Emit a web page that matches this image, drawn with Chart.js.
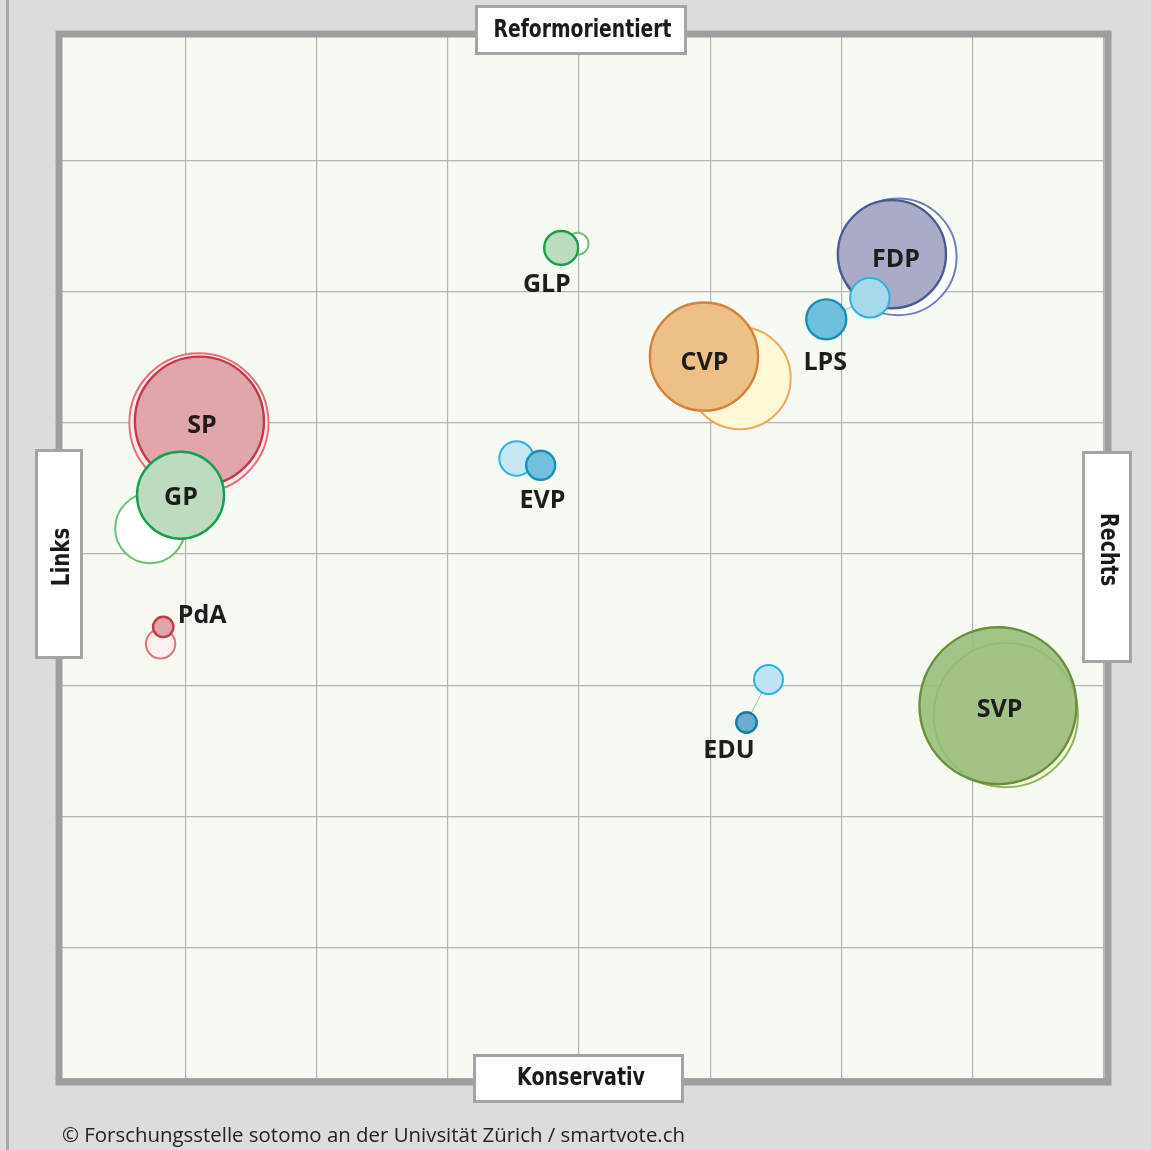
<!DOCTYPE html>
<html>
<head>
<meta charset="utf-8">
<script src="https://cdn.jsdelivr.net/npm/chart.js@4.4.1/dist/chart.umd.min.js"></script>
<style>
html,body{margin:0;padding:0;background:#dbdcdb;}
#wrap{position:absolute;left:0;top:0;width:1151px;height:1150px;}
</style>
</head>
<body>
<div id="wrap"><canvas id="c" width="1151" height="1150"></canvas></div>
<script>
// ---- data (axes run -100 .. 100) ----
const parties   = ['SP', 'GP', 'PdA', 'GLP', 'EVP', 'CVP', 'FDP', 'LPS', 'EDU', 'SVP'];
// earlier position (pale circle)
const xPrev     = [-72.4, -81.7, -79.7, -0.3, -11.9, 30.6, 60.8, 55.4, 36.1, 81.3];
const yPrev     = [ 25.0,   4.9, -17.1, 59.1,  18.2, 33.5, 56.6, 48.8, -23.9, -30.7];
const sharePrev = [ 23.0,   5.8,   1.03, 0.58,  1.41, 12.4, 16.2, 1.85, 1.0, 24.7];
// current position (filled circle)
const xNow      = [-72.3, -75.9, -79.2, -3.4,  -7.3, 23.8, 59.6, 47.1, 31.9, 79.8];
const yNow      = [ 25.3,  11.2, -13.9, 58.3,  16.9, 37.6, 57.1, 44.7, -32.1, -28.9];
const shareNow  = [ 19.8,   9.0,   0.49, 1.37,  1.0, 13.9, 13.9, 1.9, 0.5, 29.3];
const gridTicks = [-100, -75, -50, -25, 0, 25, 50, 75, 100];
const axisTexts = {top: 'Reformorientiert', bottom: 'Konservativ', left: 'Links', right: 'Rechts'};
const footer    = '© Forschungsstelle sotomo an der Univsität Zürich / smartvote.ch';

// ---- styles ----
const K = 14.5; // radius = K * sqrt(share)
const styles = {
  SP:  {pf:'#fcebec', ps:'#e5707a', nf:'#e0a6aa', ns:'#c8374a'},
  GP:  {pf:'#ffffff', ps:'#6fc075', nf:'#bddbbf', ns:'#17a04c'},
  PdA: {pf:'#fcefef', ps:'#e5707a', nf:'#e0a6aa', ns:'#c8374a'},
  GLP: {pf:'#ffffff', ps:'#6fc075', nf:'#bddbbf', ns:'#17a04c'},
  EVP: {pf:'#c6e6f2', ps:'#29b6e0', nf:'#72c0de', ns:'#1590bb'},
  CVP: {pf:'#fff8d6', ps:'#f0aa5c', nf:'#ecc087', ns:'#d4823a'},
  FDP: {pf:'#ffffff', ps:'#6e80b8', nf:'#a9abc8', ns:'#4a5b94'},
  LPS: {pf:'#a6d9ea', ps:'#27b3dd', nf:'#6fbfdf', ns:'#1590bb'},
  EDU: {pf:'#bfe3f2', ps:'#27b3dd', nf:'#6aaecb', ns:'#137ea0'},
  SVP: {pf:'#f4f6dc', ps:'#8db456', nf:'rgba(150,188,120,0.88)', ns:'#6b8e3d'}
};
const labelOffsets = {
  SP:[2.5,3], GP:[0.5,0.7], PdA:[39,-12.7], GLP:[-14.3,35.5], EVP:[1.7,34.2],
  CVP:[0.5,4.6], LPS:[-1,42], FDP:[4,4], EDU:[-17.6,26.4], SVP:[1.7,2.5]
};

const datasets = parties.map((p, i) => {
  const s = styles[p];
  return {
    label: p,
    data: [{x: xPrev[i], y: yPrev[i]}, {x: xNow[i], y: yNow[i]}],
    showLine: true,
    borderColor: '#b5b5b5',
    borderWidth: 1,
    pointRadius: [K * Math.sqrt(sharePrev[i]), K * Math.sqrt(shareNow[i])],
    pointBackgroundColor: [s.pf, s.nf],
    pointBorderColor: [s.ps, s.ns],
    pointBorderWidth: [2, 2.4],
    order: parties.length - i
  };
});

function fitText(ctx, txt, x, y, w, font, rot, align) {
  ctx.save();
  ctx.translate(x, y);
  ctx.rotate(rot || 0);
  ctx.font = font;
  const m = ctx.measureText(txt).width;
  if (w) ctx.scale(w / m, 1);
  ctx.textAlign = align || 'center';
  ctx.textBaseline = 'alphabetic';
  ctx.fillText(txt, 0, 0);
  ctx.restore();
}
function box(ctx, x0, y0, x1, y1) {
  ctx.save();
  ctx.fillStyle = '#ffffff';
  ctx.fillRect(x0, y0, x1 - x0, y1 - y0);
  ctx.strokeStyle = '#a3a4a3';
  ctx.lineWidth = 3;
  ctx.strokeRect(x0 + 1.5, y0 + 1.5, x1 - x0 - 3, y1 - y0 - 3);
  ctx.restore();
}
const FRAME = {x0: 55.5, y0: 30.5, x1: 1111.5, y1: 1085.5, w: 7};

const deco = {
  id: 'deco',
  beforeDraw(chart) {
    const ctx = chart.ctx, a = chart.chartArea;
    ctx.save();
    ctx.fillStyle = '#dbdcdb';
    ctx.fillRect(0, 0, chart.width, chart.height);
    ctx.fillStyle = '#f7f9f3';
    ctx.fillRect(a.left, a.top, a.right - a.left, a.bottom - a.top);
    ctx.restore();
  },
  afterDatasetsDraw(chart) {
    const ctx = chart.ctx;
    ctx.save();
    ctx.fillStyle = '#1d1d1b';
    parties.forEach((p, i) => {
      const pt = chart.getDatasetMeta(i).data[1];
      const o = labelOffsets[p];
      fitText(ctx, p, pt.x + o[0], pt.y + o[1] + 8.9, null, 'bold 25px "Open Sans"', 0);
    });
    ctx.restore();
  },
  afterDraw(chart) {
    const ctx = chart.ctx;
    ctx.save();
    // background outside the frame (hides grid overshoot)
    ctx.fillStyle = '#dbdcdb';
    ctx.beginPath();
    ctx.rect(0, 0, chart.width, chart.height);
    ctx.rect(FRAME.x0, FRAME.y0, FRAME.x1 - FRAME.x0, FRAME.y1 - FRAME.y0);
    ctx.fill('evenodd');
    ctx.fillStyle = '#a6a7a6';
    ctx.fillRect(6, 0, 3, chart.height);
    // frame
    ctx.strokeStyle = '#9d9e9d';
    ctx.lineWidth = FRAME.w;
    const h = FRAME.w / 2;
    ctx.strokeRect(FRAME.x0 + h, FRAME.y0 + h, FRAME.x1 - FRAME.x0 - FRAME.w, FRAME.y1 - FRAME.y0 - FRAME.w);
    // axis boxes
    box(ctx, 475, 5, 687, 55);
    box(ctx, 473, 1054, 684, 1103);
    box(ctx, 35, 449, 83, 659);
    box(ctx, 1082, 451, 1132, 663);
    ctx.fillStyle = '#1a1a1a';
    const f = 'bold 25px "Liberation Sans Narrow", "DejaVu Sans Condensed", sans-serif';
    fitText(ctx, axisTexts.top, 582.5, 37, 178, f, 0);
    fitText(ctx, axisTexts.bottom, 581, 1085, 128, f, 0);
    fitText(ctx, axisTexts.left, 69, 557, 58.5, f, -Math.PI / 2);
    fitText(ctx, axisTexts.right, 1101, 549.5, 73, f, Math.PI / 2);
    // footer
    ctx.fillStyle = '#222222';
    fitText(ctx, footer, 62, 1142, 623, '20px "Open Sans"', 0, 'left');
    ctx.restore();
  }
};

new Chart(document.getElementById('c'), {
  type: 'scatter',
  data: {datasets},
  options: {
    responsive: false,
    devicePixelRatio: 1,
    animation: false,
    events: [],
    layout: {autoPadding: false, padding: {left: 54, top: 29, right: 47, bottom: 71}},
    plugins: {legend: {display: false}, tooltip: {enabled: false}},
    elements: {line: {tension: 0}},
    scales: {
      x: {
        type: 'linear', min: -100, max: 100,
        afterBuildTicks: s => { s.ticks = gridTicks.map(v => ({value: v})); },
        ticks: {display: false},
        grid: {color: '#b2b3b2', lineWidth: 1.2, drawTicks: false},
        border: {display: false}
      },
      y: {
        type: 'linear', min: -100, max: 100,
        afterBuildTicks: s => { s.ticks = gridTicks.map(v => ({value: v})); },
        ticks: {display: false},
        grid: {color: '#b2b3b2', lineWidth: 1.2, drawTicks: false},
        border: {display: false}
      }
    }
  },
  plugins: [deco]
});
</script>
</body>
</html>
